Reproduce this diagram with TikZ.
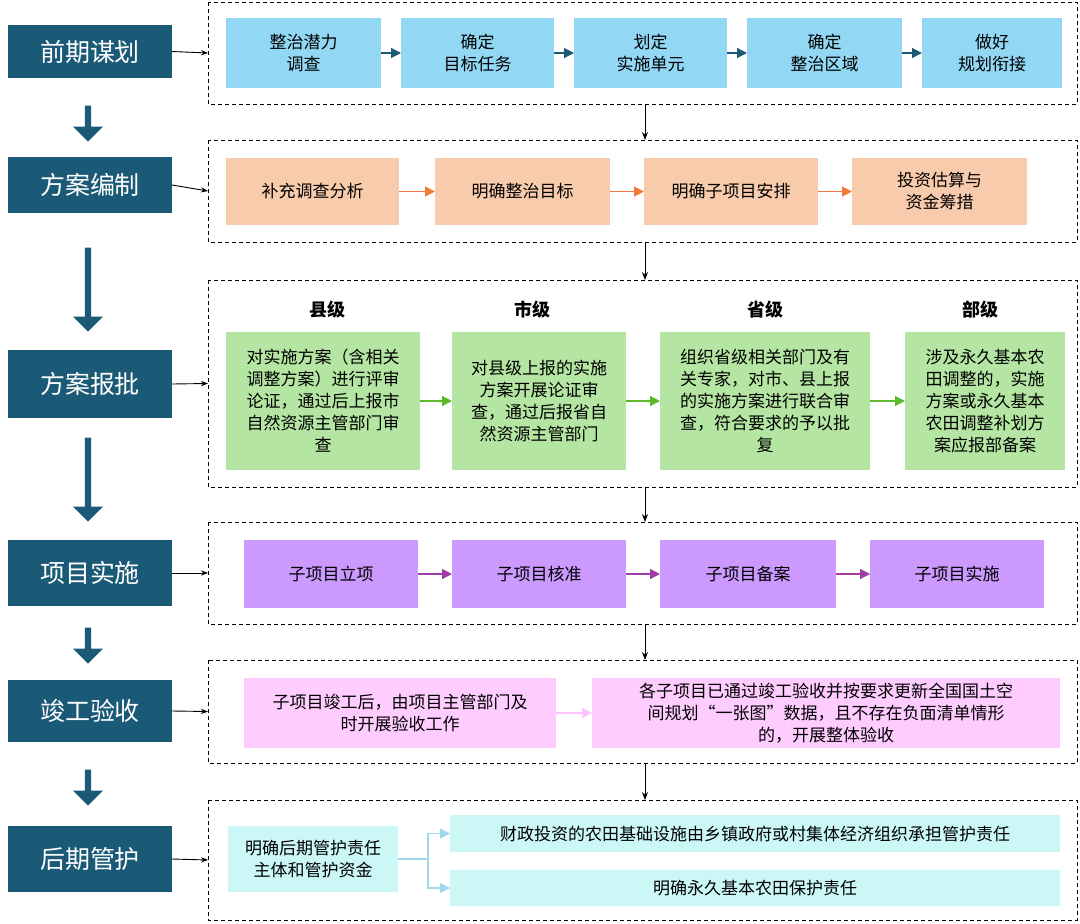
\documentclass[tikz,border=0pt]{standalone}
\usepackage{fontspec}
\setmainfont{Noto Sans CJK SC}
\usetikzlibrary{arrows.meta, shapes.arrows}
\definecolor{stageteal}{HTML}{1B5A77}
\definecolor{boxblue}{HTML}{92D8F5}
\definecolor{boxsalmon}{HTML}{F8CBAD}
\definecolor{boxgreen}{HTML}{B4E5A2}
\definecolor{boxpurple}{HTML}{CC99FF}
\definecolor{boxpink}{HTML}{FFCCFF}
\definecolor{boxcyan}{HTML}{CCF7F7}
\definecolor{arrorange}{HTML}{F07B3A}
\definecolor{arrgreen}{HTML}{5DB82E}
\definecolor{arrpurple}{HTML}{A03CA8}
\definecolor{arrpink}{HTML}{FFC4FF}
\definecolor{arrcyan}{HTML}{9ED8F0}
\tikzset{
  stage/.style={fill=stageteal, text=white, font=\fontsize{25}{30}\selectfont},
  panel/.style={draw, dash pattern=on 4pt off 3pt, thick},
  stepnode/.style={font=\fontsize{17}{22}\selectfont, align=center},
  flow/.style={-{Triangle[length=10pt,width=10pt]}, line width=1.2pt},
  downarrow/.style={single arrow, draw=none, fill=stageteal, minimum height=#1, single arrow head extend=8pt, single arrow tip angle=90, minimum width=30pt, shape border rotate=270, inner sep=2pt},
}
\newcommand{\stepbox}[7]{% name, x1, y1, x2, y2, colour, text
  \fill [#6] (#2,#3) rectangle (#4,#5);
  \node [stepnode] (#1) at ({(#2+#4)/2},{(#3+#5)/2}) {#7};
  \coordinate (#1w) at (#2,{(#3+#5)/2});
  \coordinate (#1e) at (#4,{(#3+#5)/2});
}
\begin{document}
\begin{tikzpicture}[x=1pt, y=-1pt]
  \useasboundingbox (0,0) rectangle (1080,924);

  % stages on the left
  \foreach \name/\ya/\yb/\txt in {S1/25/78/前期谋划, S2/157/213/方案编制, S3/350/418/方案报批,
                                  S4/540/606/项目实施, S5/680/742/竣工验收, S6/826/892/后期管护} {
    \fill [stageteal] (8,\ya) rectangle (172,\yb);
    \node [stage] (\name) at (90,{(\ya+\yb)/2}) {\txt};
    \coordinate (\name e) at (172,{(\ya+\yb)/2});
  }
  \node [downarrow=36pt] (D1) at (88,122) {};
  \node [downarrow=84pt] (D2) at (88,288) {};
  \node [downarrow=84pt] (D3) at (88,478) {};
  \node [downarrow=36pt] (D4) at (88,644) {};
  \node [downarrow=36pt] (D5) at (88,786) {};

  % dashed panels
  \foreach \name/\ya/\yb in {P1/2/104, P2/140/242, P3/280/487, P4/522/624, P5/660/763, P6/800/920} {
    \draw [panel] (208,\ya) rectangle (1077,\yb);
    \coordinate (\name n) at (645,\ya);
    \coordinate (\name s) at (645,\yb);
    \coordinate (\name w) at (208,{(\ya+\yb)/2});
  }
  \foreach \i in {1,...,6}
    \draw [line width=0.9pt, -{Stealth[length=7pt]}] (S\i e) -- (P\i w);
  \foreach \i/\j in {1/2, 2/3, 3/4, 4/5, 5/6}
    \draw [line width=0.9pt, -{Stealth[length=8pt]}] (P\i s) -- (P\j n);

  % panel 1
  \stepbox{A1}{226}{18}{381}{88}{boxblue}{整治潜力\\调查}
  \stepbox{A2}{401}{18}{554}{88}{boxblue}{确定\\目标任务}
  \stepbox{A3}{574}{18}{727}{88}{boxblue}{划定\\实施单元}
  \stepbox{A4}{747}{18}{902}{88}{boxblue}{确定\\整治区域}
  \stepbox{A5}{922}{18}{1062}{88}{boxblue}{做好\\规划衔接}
  \foreach \i/\j in {1/2, 2/3, 3/4, 4/5}
    \draw [flow, stageteal] (A\i e) -- (A\j w);

  % panel 2
  \stepbox{B1}{226}{158}{399}{225}{boxsalmon}{补充调查分析}
  \stepbox{B2}{435}{158}{610}{225}{boxsalmon}{明确整治目标}
  \stepbox{B3}{644}{158}{818}{225}{boxsalmon}{明确子项目安排}
  \stepbox{B4}{852}{158}{1027}{225}{boxsalmon}{投资估算与\\资金筹措}
  \foreach \i/\j in {1/2, 2/3, 3/4}
    \draw [flow, arrorange] (B\i e) -- (B\j w);

  % panel 3
  \node [stepnode, font=\bfseries\fontsize{18}{22}\selectfont] (H1) at (327,310) {县级};
  \node [stepnode, font=\bfseries\fontsize{18}{22}\selectfont] (H2) at (532,310) {市级};
  \node [stepnode, font=\bfseries\fontsize{18}{22}\selectfont] (H3) at (765,310) {省级};
  \node [stepnode, font=\bfseries\fontsize{18}{22}\selectfont] (H4) at (980,310) {部级};
  \stepbox{C1}{226}{332}{420}{470}{boxgreen}{对实施方案（含相关\\调整方案）进行评审\\论证，通过后上报市\\自然资源主管部门审\\查}
  \stepbox{C2}{452}{332}{626}{470}{boxgreen}{对县级上报的实施\\方案开展论证审\\查，通过后报省自\\然资源主管部门}
  \stepbox{C3}{660}{332}{870}{470}{boxgreen}{组织省级相关部门及有\\关专家，对市、县上报\\的实施方案进行联合审\\查，符合要求的予以批\\复}
  \stepbox{C4}{905}{332}{1065}{470}{boxgreen}{涉及永久基本农\\田调整的，实施\\方案或永久基本\\农田调整补划方\\案应报部备案}
  \foreach \i/\j in {1/2, 2/3, 3/4}
    \draw [flow, arrgreen] (C\i e) -- (C\j w);

  % panel 4
  \stepbox{E1}{244}{540}{418}{608}{boxpurple}{子项目立项}
  \stepbox{E2}{452}{540}{626}{608}{boxpurple}{子项目核准}
  \stepbox{E3}{660}{540}{836}{608}{boxpurple}{子项目备案}
  \stepbox{E4}{870}{540}{1044}{608}{boxpurple}{子项目实施}
  \foreach \i/\j in {1/2, 2/3, 3/4}
    \draw [flow, arrpurple] (E\i e) -- (E\j w);

  % panel 5
  \stepbox{F1}{244}{678}{556}{748}{boxpink}{子项目竣工后，由项目主管部门及\\时开展验收工作}
  \stepbox{F2}{592}{678}{1060}{748}{boxpink}{各子项目已通过竣工验收并按要求更新全国国土空\\间规划“一张图”数据，且不存在负面清单情形\\的，开展整体验收}
  \draw [flow, arrpink] (F1e) -- (F2w);

  % panel 6
  \stepbox{G1}{228}{826}{398}{892}{boxcyan}{明确后期管护责任\\主体和管护资金}
  \stepbox{G2}{450}{815}{1060}{852}{boxcyan}{财政投资的农田基础设施由乡镇政府或村集体经济组织承担管护责任}
  \stepbox{G3}{450}{870}{1060}{906}{boxcyan}{明确永久基本农田保护责任}
  \coordinate (Gfork) at (428,859);
  \draw [arrcyan, line width=1.2pt] (G1e) -- (Gfork);
  \draw [flow, arrcyan] (Gfork) |- (G2w);
  \draw [flow, arrcyan] (Gfork) |- (G3w);
\end{tikzpicture}
\end{document}
